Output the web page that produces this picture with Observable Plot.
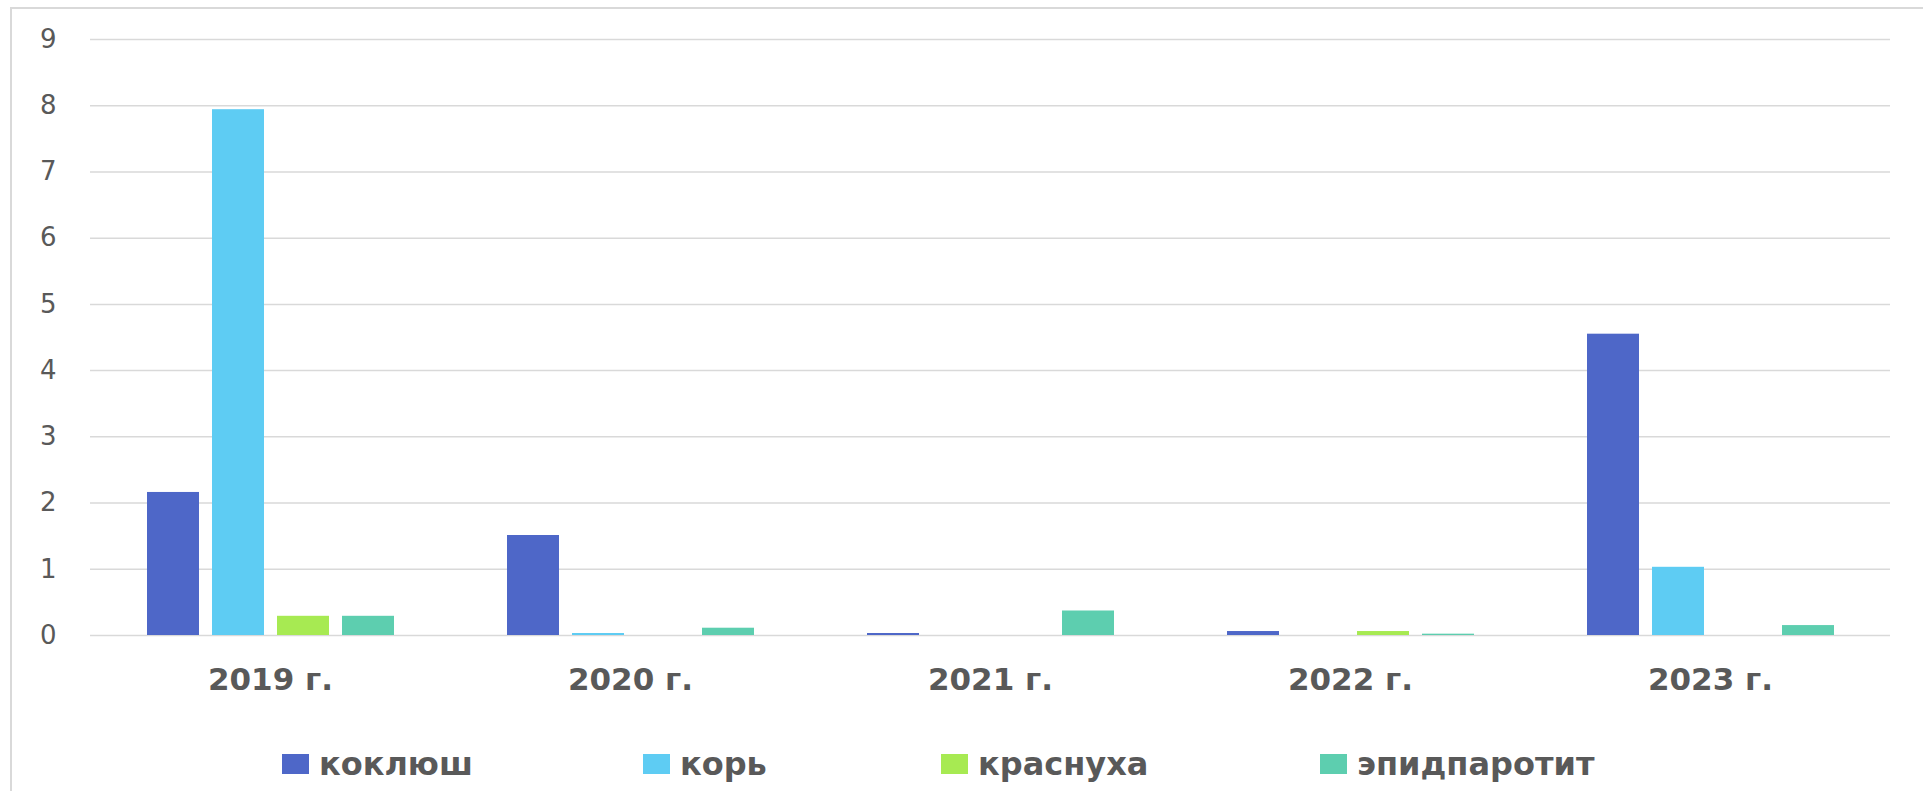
<!DOCTYPE html>
<html>
<head>
<meta charset="utf-8">
<script src="https://cdn.jsdelivr.net/npm/d3@7"></script>
<script src="https://cdn.jsdelivr.net/npm/@observablehq/plot@0.6"></script>
<style>
  html, body { margin: 0; padding: 0; background: #ffffff; }
  #wrap { position: relative; width: 1923px; height: 791px; overflow: hidden; font-family: "DejaVu Sans", sans-serif; }
  #frame { position: absolute; left: 10px; top: 7px; right: -10px; bottom: -10px; border-left: 2px solid #d9d9d9; border-top: 2px solid #d9d9d9; }
  #chart { position: absolute; left: 0; top: 0; }
  #legend { position: absolute; left: 282px; top: 744px; height: 40px; display: flex; align-items: center; }
  .item { display: flex; align-items: center; height: 40px; }
  .sw { width: 27px; height: 20px; margin-right: 10px; flex: none; }
  .lab { font-size: 32px; font-weight: bold; color: #595959; line-height: 40px; white-space: nowrap; }
</style>
</head>
<body>
<div id="wrap">
  <div id="frame"></div>
  <div id="chart"></div>
  <div id="legend"></div>
</div>
<script>
// ---- data ----
const years = ["2019 г.", "2020 г.", "2021 г.", "2022 г.", "2023 г."];
const diseases = ["коклюш", "корь", "краснуха", "эпидпаротит"];
const palette = ["#4E67C8", "#5ECCF3", "#A7EA52", "#5DCEAF"];
const pertussis = [2.16, 1.51, 0.03, 0.06, 4.55];   // коклюш
const measles   = [7.94, 0.03, 0.00, 0.00, 1.03];   // корь
const rubella   = [0.29, 0.00, 0.00, 0.06, 0.00];   // краснуха
const mumps     = [0.29, 0.11, 0.37, 0.02, 0.15];   // эпидпаротит
const yTicks = [0, 1, 2, 3, 4, 5, 6, 7, 8, 9];

const series = [pertussis, measles, rubella, mumps];
const rows = years.flatMap((year, i) =>
  diseases.map((disease, j) => ({ year, disease, value: series[j][i] }))
);

const chart = Plot.plot({
  width: 1923,
  height: 715,
  marginTop: 39,
  marginRight: 33,
  marginBottom: 80,
  marginLeft: 90,
  style: { fontFamily: '"DejaVu Sans", sans-serif', background: "transparent", color: "#595959", overflow: "visible" },
  fx: { domain: years, padding: 0, label: null },
  x: { domain: diseases, paddingInner: 0.206, paddingOuter: 0.87, axis: null },
  y: { domain: [0, 9], label: null },
  color: { domain: diseases, range: palette },
  marks: [
    Plot.gridY(yTicks, { stroke: "#d9d9d9", strokeOpacity: 1, strokeWidth: 1.5 }),
    Plot.barY(rows, { fx: "year", x: "disease", y: "value", fill: "disease" }),
    Plot.axisY(yTicks, { tickSize: 0, tickPadding: 34, fontSize: 26, tickFormat: (d) => String(d), label: null }),
    Plot.axisFx({ anchor: "bottom", tickSize: 0, tickPadding: 32, fontSize: 31, fontWeight: "bold", label: null })
  ]
});
document.getElementById("chart").appendChild(chart);

// ---- legend ----
const legendWidths = [361, 298, 379, null];
const legend = document.getElementById("legend");
diseases.forEach((d, i) => {
  const item = document.createElement("div");
  item.className = "item";
  if (legendWidths[i]) item.style.width = legendWidths[i] + "px";
  const sw = document.createElement("div");
  sw.className = "sw";
  sw.style.background = palette[i];
  const lab = document.createElement("span");
  lab.className = "lab";
  lab.textContent = d;
  item.appendChild(sw);
  item.appendChild(lab);
  legend.appendChild(item);
});
</script>
</body>
</html>
